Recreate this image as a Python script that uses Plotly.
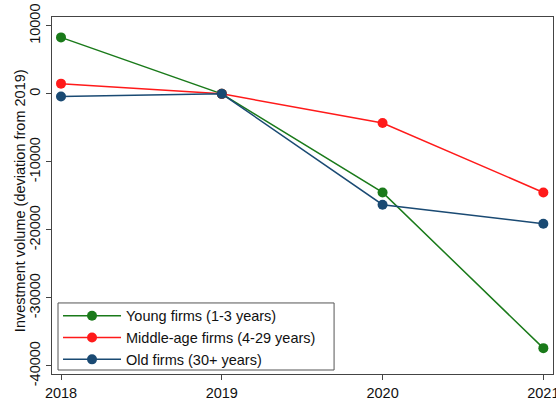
import plotly.graph_objects as go

years = [2018, 2019, 2020, 2021]
young = [8300, 0, -14500, -37400]
middle = [1500, 0, -4300, -14500]
old = [-400, 0, -16300, -19100]
names = ["Young firms (1-3 years)", "Middle-age firms (4-29 years)", "Old firms (30+ years)"]
colors = ["#1a7a1a", "#ff1a1a", "#1a4a73"]
y_ticks = [10000, 0, -10000, -20000, -30000, -40000]

fig = go.Figure()
for name, vals, c in zip(names, [young, middle, old], colors):
    fig.add_trace(go.Scatter(
        x=years, y=vals, mode="lines+markers", name=name,
        line=dict(color=c, width=1.5),
        marker=dict(color=c, size=10, line=dict(width=0)),
    ))

font = "Liberation Sans, Arial, Helvetica, sans-serif"
fs = 14.5
fig.update_layout(
    width=556, height=400,
    margin=dict(l=52, r=3, t=17, b=26),
    paper_bgcolor="white", plot_bgcolor="white",
    font=dict(family=font, size=fs, color="#111"),
    showlegend=True,
    legend=dict(
        x=0.012, y=0.208, xanchor="left", yanchor="top",
        borderwidth=0, bgcolor="rgba(0,0,0,0)",
        font=dict(size=fs), itemwidth=58, tracegroupgap=0,
    ),
    shapes=[dict(type="rect", xref="paper", yref="paper",
                 x0=0.012, x1=0.563, y0=0.0112, y1=0.199,
                 line=dict(color="#555", width=1), layer="above")],
    annotations=[dict(text="Investment volume (deviation from 2019)", xref="paper", yref="paper",
                      x=-0.0639, y=0.487, xanchor="center", yanchor="middle",
                      textangle=-90, showarrow=False, font=dict(size=fs))],
    xaxis=dict(
        range=[2017.944, 2021.06], tickvals=years, ticktext=[str(y) for y in years],
        showgrid=False, zeroline=False, showline=True, linecolor="#444", linewidth=1.2,
        mirror=True, ticks="outside", ticklen=5, tickcolor="#444",
        tickfont=dict(size=fs), automargin=False, ticklabeloverflow="allow",
    ),
    yaxis=dict(
        range=[-41200, 11300], tickvals=y_ticks, ticktext=[str(v) for v in y_ticks],
        showgrid=False, zeroline=False, showline=True, linecolor="#444", linewidth=1.2,
        mirror=True, ticks="outside", ticklen=5, tickcolor="#444",
        tickangle=-90, tickfont=dict(size=fs), automargin=False, ticklabeloverflow="allow",
    ),
)

fig.write_html(
    "out.html",
    config={"displayModeBar": False},
    post_script="document.body.style.margin='0';document.body.style.overflow='hidden';",
)
